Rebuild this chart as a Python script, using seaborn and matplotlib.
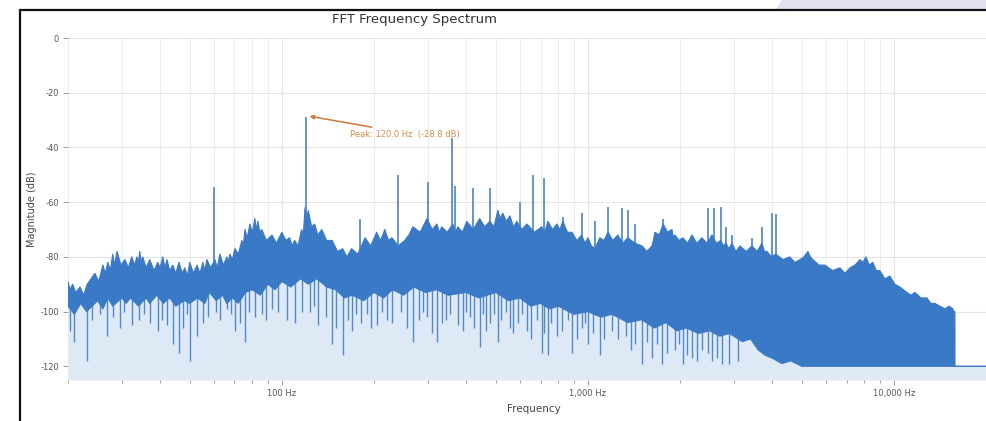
import numpy as np
import matplotlib
matplotlib.use("Agg")
import matplotlib.pyplot as plt
import seaborn as sns
from matplotlib.lines import Line2D
from matplotlib.patches import Polygon
from matplotlib.ticker import FixedLocator, LogLocator, NullFormatter

# upper edge of the noise band, peaks and notches
freq_hz = [20, 20.3, 20.7, 21.2, 21.9, 22.5, 23.1, 23.8, 24.5, 25.2,
           26.0, 26.5, 27.0, 27.5, 28.0, 28.4, 28.9, 29.8, 30.7, 31.5,
           32.3, 33.0, 33.6, 34.0, 34.3, 34.7, 35.1, 36.0, 37.0, 38.2,
           39.3, 40.0, 40.8, 41.5, 42.1, 43.0, 44.0, 45.0, 46.1, 47.2,
           48.2, 49.1, 50.0, 51.4, 52.8, 54.0, 55.2, 56.0, 56.9, 58.5,
           60.4, 61.5, 62.7, 64.4, 66.1, 66.8, 67.6, 68.9, 70.2, 72.0,
           74.0, 74.8, 75.7, 77.1, 78.6, 80.1, 81.6, 82.5, 83.5, 84.7,
           86.0, 89.0, 92.8, 96.0, 100, 103, 106, 108, 110, 113,
           116, 117.5, 119, 120.5, 122, 125, 128, 131, 135, 140,
           146, 152, 158, 163, 169, 177, 187, 195, 204, 210,
           217, 223, 229, 240, 252, 260, 268, 283, 298, 310,
           321, 327, 333, 347, 362, 369, 376, 389, 402, 422,
           443, 460, 478, 493, 508, 517, 527, 541, 556, 571,
           586, 609, 632, 668, 707, 723, 740, 766, 792, 810,
           828, 857, 887, 920, 955, 977, 1000, 1027, 1054, 1074,
           1094, 1128, 1163, 1207, 1253, 1300, 1351, 1425, 1502, 1560,
           1619, 1637, 1656, 1710, 1762, 1820, 1882, 1903, 1924, 1985,
           2044, 2115, 2188, 2270, 2358, 2450, 2543, 2630, 2721, 2770,
           2825, 2890, 2955, 3045, 3140, 3290, 3436, 3570, 3704, 3775,
           3846, 3980, 4114, 4340, 4567, 4745, 4930, 5080, 5236, 5335,
           5434, 5690, 5951, 6300, 6662, 6920, 7182, 7460, 7744, 7920,
           8100, 8310, 8531, 8760, 8994, 9340, 9700, 10070, 10462, 10740,
           11030, 11360, 11712, 12250, 12821, 13200, 13614, 14130, 14680, 15130,
           15590, 15700, 15820, 15830, 22050]
top_db = [-89, -92, -90, -93, -91, -94, -90, -88, -86, -89,
          -83, -86, -82, -85, -79, -83, -78, -83, -81, -84,
          -80, -83, -80, -82, -78, -82, -80, -84, -81, -85,
          -82, -84, -80, -84, -81, -85, -83, -86, -82, -86,
          -84, -87, -82, -86, -83, -86, -82, -85, -81, -84,
          -81, -84, -79, -83, -80, -82, -79, -81, -77, -79,
          -74, -76, -70, -73, -68, -71, -66, -70, -67, -71,
          -70, -74, -72, -75, -71, -74, -73, -76, -74, -76,
          -70, -72, -62, -66, -63, -69, -68, -72, -70, -74,
          -74, -78, -77, -80, -77, -79, -73, -76, -71, -74,
          -70, -74, -73, -76, -74, -72, -69, -71, -66, -70,
          -68, -71, -69, -71, -68, -71, -69, -71, -67, -70,
          -66, -69, -67, -69, -63, -66, -64, -67, -65, -69,
          -67, -70, -68, -71, -69, -71, -67, -70, -68, -70,
          -67, -71, -71, -74, -72, -75, -73, -76, -77, -75,
          -73, -74, -71, -74, -72, -75, -73, -75, -76, -78,
          -76, -74, -71, -72, -68, -71, -70, -73, -72, -74,
          -73, -75, -72, -75, -73, -75, -72, -75, -74, -76,
          -75, -77, -75, -78, -76, -78, -76, -78, -75, -78,
          -78, -80, -79, -81, -80, -82, -81, -80, -78, -80,
          -81, -83, -83, -85, -84, -86, -84, -83, -81, -82,
          -80, -83, -82, -85, -85, -88, -87, -90, -91, -92,
          -93, -94, -93, -95, -95, -97, -97, -98, -99, -98,
          -99, -100, -100, -120, -120]

# lower edge of the solid band
floor_hz = [20, 21, 22, 23, 24, 25, 26, 27, 28, 30,
            31, 32, 34, 36, 37, 39, 41, 43, 45, 48,
            50, 53, 56, 58, 61, 64, 66, 69, 72, 76,
            80, 85, 90, 95, 100, 107, 115, 122, 130, 140,
            150, 160, 170, 185, 200, 215, 230, 250, 270, 295,
            320, 350, 400, 440, 500, 550, 600, 650, 700, 750,
            800, 900, 1000, 1100, 1200, 1350, 1500, 1650, 1800, 1950,
            2100, 2300, 2500, 2700, 2900, 3200, 3400, 3600, 3800, 4000,
            4300, 4600, 5000, 22050]
floor_db = [-98, -101, -97, -100, -98, -96, -99, -95, -98, -95,
            -97, -95, -98, -95, -97, -94, -97, -95, -98, -96,
            -97, -95, -97, -93, -96, -94, -97, -95, -97, -93,
            -92, -94, -90, -92, -89, -91, -88, -90, -88, -91,
            -92, -95, -94, -96, -93, -95, -92, -94, -91, -93,
            -92, -94, -93, -95, -93, -96, -95, -98, -97, -99,
            -98, -101, -100, -102, -101, -104, -103, -106, -104, -107,
            -106, -108, -107, -109, -108, -111, -110, -114, -116, -117,
            -119, -118, -120, -120]

# dips below the band
dip_hz = [20.3, 21.0, 23.1, 24.0, 25.5, 26.8, 28.0, 29.5, 30.5, 32.3,
          34.0, 35.5, 37.0, 39.3, 40.5, 42.1, 44.0, 46.1, 47.5, 49.0,
          50.0, 52.8, 55.2, 57.5, 61.0, 63.0, 66.1, 68.0, 70.2, 73.0,
          75.7, 78.0, 81.6, 86.0, 89.0, 92.8, 97.0, 104, 110, 116,
          124, 127, 131, 139, 146, 150, 158, 165, 169, 175,
          182, 190, 196, 204, 212, 220, 229, 245, 256, 268,
          280, 290, 298, 310, 321, 333, 345, 355, 376, 390,
          400, 411, 425, 443, 455, 465, 478, 495, 508, 520,
          540, 556, 570, 590, 610, 632, 650, 680, 707, 720,
          740, 760, 792, 820, 860, 887, 920, 955, 980, 1000,
          1040, 1094, 1130, 1200, 1253, 1330, 1380, 1424, 1502, 1560,
          1619, 1680, 1746, 1820, 1924, 1980, 2044, 2100, 2188, 2280,
          2358, 2460, 2543, 2650, 2750, 2900, 3100]
dip_db = [-107, -111, -118, -103, -101, -109, -102, -106, -100, -105,
          -103, -101, -104, -107, -103, -105, -112, -115, -106, -101,
          -118, -109, -104, -102, -100, -103, -99, -101, -107, -104,
          -111, -100, -102, -101, -103, -99, -100, -103, -104, -100,
          -100, -98, -105, -102, -112, -106, -116, -103, -107, -101,
          -104, -101, -106, -105, -100, -103, -104, -100, -106, -111,
          -103, -100, -102, -108, -111, -104, -103, -101, -105, -107,
          -100, -102, -106, -113, -101, -107, -104, -101, -111, -103,
          -100, -106, -108, -104, -101, -107, -110, -103, -115, -108,
          -116, -104, -109, -107, -103, -115, -110, -106, -104, -112,
          -108, -116, -110, -107, -110, -109, -114, -112, -119, -111,
          -117, -112, -119, -115, -114, -112, -119, -116, -117, -118,
          -114, -115, -118, -117, -119, -119, -118]

# tonal spikes above the band
spike_hz = [60, 120, 180, 240, 300, 360, 368, 420, 480, 600,
            660, 720, 828, 955, 1054, 1163, 1291, 1351, 1424, 1762,
            2466, 2583, 2721, 2825, 2955, 3436, 3704, 3994, 4114]
spike_db = [-54.5, -28.8, -66, -50, -52.5, -36.6, -54, -55, -55, -60,
            -50, -51, -65.5, -64, -67, -61.7, -62, -63, -68, -66,
            -62, -62, -61.7, -69, -72, -73, -69, -64, -64.5]

peak_hz = 120.0
peak_db = -28.8

blue = "#3a79c5"
light = "#dfe9f5"

sns.set_theme(style="whitegrid")
plt.rcParams["font.family"] = ["DejaVu Sans"]
plt.rcParams["axes.unicode_minus"] = False

fig = plt.figure(figsize=(9.87, 4.21), dpi=100)
ax = fig.add_axes([68 / 987, 1 - 380 / 421, 931 / 987, 342 / 421])
ax.set_xscale("log")

ax.fill_between(freq_hz, top_db, -125, color=light, lw=0, zorder=1)
dip_base = np.interp(np.log10(dip_hz), np.log10(floor_hz), floor_db)
ax.vlines(dip_hz, dip_db, dip_base + 3, color="#5089cc", lw=1.0, zorder=1.5)
ax.vlines(spike_hz, spike_db, -88, color="#4a84c9", lw=1.2, zorder=1.6)
band_x = np.r_[freq_hz, floor_hz[::-1]]
band_y = np.r_[top_db, floor_db[::-1]]
ax.fill(band_x, band_y, color=blue, lw=0, zorder=2)
sns.lineplot(x=freq_hz, y=top_db, ax=ax, color=blue, lw=0.8, estimator=None, sort=False, zorder=3)
ax.plot(floor_hz, floor_db, color=blue, lw=0.8, zorder=3)

ax.annotate("", xy=(123, -28.6), xytext=(197, -32.6),
            arrowprops=dict(arrowstyle="-|>", color="#d0793a", lw=1.1,
                            mutation_scale=6, shrinkA=0, shrinkB=0), zorder=5)
ax.text(167, -35.3, f"Peak: {peak_hz:.1f} Hz  ({peak_db:.1f} dB)", fontsize=6,
        color="#e08a4a", ha="left", va="center", zorder=1.55)

ax.set_xlim(20, 22050)
ax.set_ylim(-125, 0)
ax.xaxis.set_major_locator(FixedLocator([100, 1000, 10000]))
ax.set_xticklabels(["100 Hz", "1,000 Hz", "10,000 Hz"])
ax.xaxis.set_minor_locator(LogLocator(base=10, subs=np.arange(2, 10)))
ax.xaxis.set_minor_formatter(NullFormatter())
ax.set_yticks([0, -20, -40, -60, -80, -100, -120])
ax.set_yticklabels(["0", "-20", "-40", "-60", "-80", "-100", "-120"])

ax.grid(True, which="major", color="#e4e4e4", lw=0.8)
ax.grid(True, which="minor", axis="x", color="#ececec", lw=0.7)
ax.set_axisbelow(True)
for s in ax.spines.values():
    s.set_visible(False)
ax.tick_params(axis="both", which="both", bottom=True, left=True, direction="out",
               color="#9a9a9a", labelcolor="#555555", labelsize=6, width=0.7)
ax.tick_params(axis="both", which="major", length=3.5, pad=3)
ax.tick_params(axis="x", which="minor", length=2.5)

ax.set_xlabel("Frequency", fontsize=7.5, color="#444444", labelpad=4)
ax.set_ylabel("Magnitude (dB)", fontsize=7, color="#444444", labelpad=2)
fig.text(415 / 987, 1 - 20 / 421, "FFT Frequency Spectrum", fontsize=9.5,
         color="#333333", ha="center", va="center")

# screenshot frame and corner
fig.add_artist(Line2D([20 / 987, 20 / 987], [0, 1 - 10 / 421], color="#111111", lw=1.6))
fig.add_artist(Line2D([20 / 987, 1], [1 - 10 / 421, 1 - 10 / 421], color="#111111", lw=1.6))
fig.add_artist(Polygon([[782 / 987, 1], [1, 1], [1, 1 - 9 / 421], [776 / 987, 1 - 9 / 421]],
                       closed=True, color="#e3dff1", lw=0, transform=fig.transFigure))

fig.savefig("out.png", dpi=100)
